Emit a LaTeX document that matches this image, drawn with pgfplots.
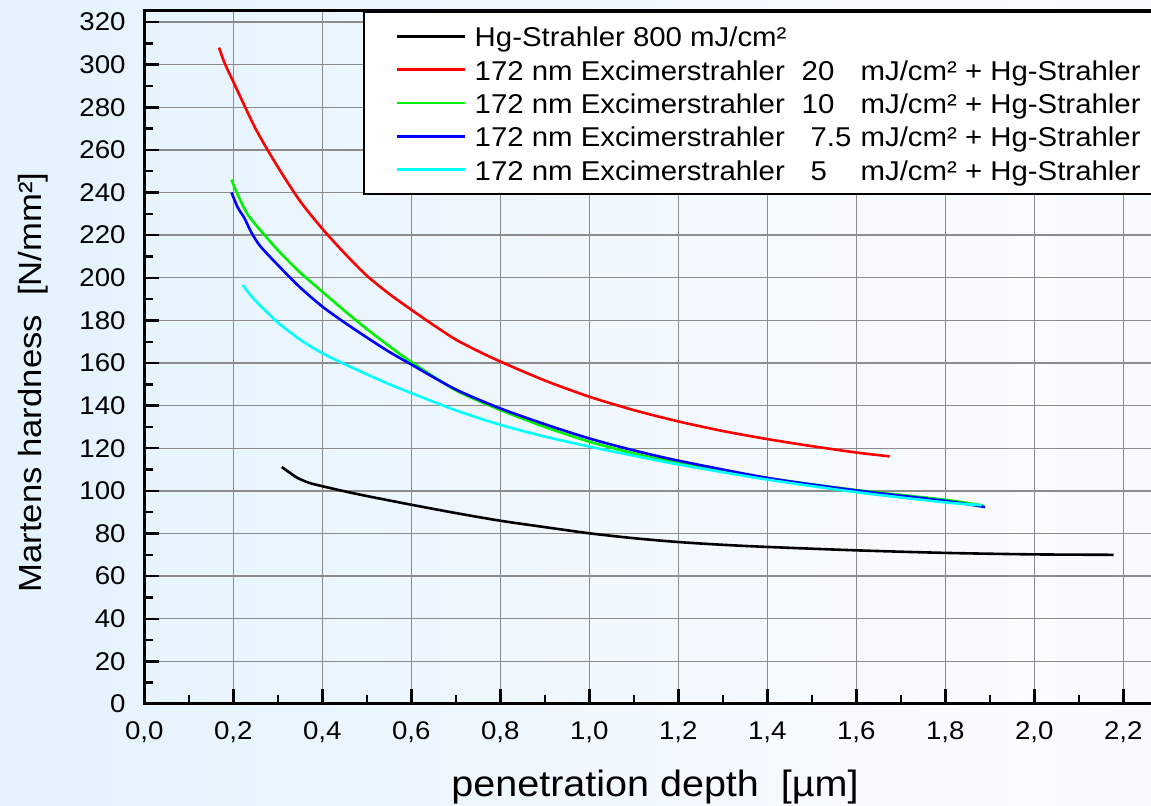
\documentclass[border=0pt]{standalone}
\usepackage{pgfplots}
\pgfplotsset{compat=1.18}
\usepackage{fontspec}
\setmainfont[FakeStretch=1.08]{Liberation Sans}
\definecolor{bgL}{RGB}{216,237,253}
\definecolor{bgW}{RGB}{250,252,255}
\definecolor{bgR}{RGB}{228,242,253}
\definecolor{gridc}{RGB}{140,140,140}
\definecolor{cgreen}{RGB}{0,240,0}
\definecolor{ccyan}{RGB}{0,255,255}
\definecolor{cblue}{RGB}{0,0,255}
\definecolor{cred}{RGB}{255,0,0}
\pgfdeclarehorizontalshading{bgshade}{100bp}{color(0bp)=(bgL); color(70bp)=(bgW); color(100bp)=(bgR)}
\newcommand\exc[3]{\rlap{172 nm Excimerstrahler}\hspace*{#2}\rlap{#1}\hspace*{#3}mJ/cm² + Hg-Strahler}
\newcommand\leg[1]{\hspace*{4.2pt}\makebox[340pt][l]{#1}}
\begin{document}
\begin{tikzpicture}
\shade[shading=bgshade] (0,0) rectangle (575.5pt,403pt);
\begin{axis}[
  at={(72.15pt,51pt)}, anchor=south west,
  scale only axis, width=503.96pt, height=346.5pt,
  xmin=0, xmax=2.265, ymin=0, ymax=325.2,
  xtick={0,0.2,0.4,0.6,0.8,1.0,1.2,1.4,1.6,1.8,2.0,2.2},
  ytick={0,20,40,60,80,100,120,140,160,180,200,220,240,260,280,300,320},
  minor x tick num=1, minor y tick num=1,
  xtick pos=bottom, ytick pos=left,
  tick align=inside,
  major tick length=7.5pt, minor tick length=4.5pt,
  every tick/.style={black, line width=1.2pt},
  axis line style={line width=1.5pt},
  grid=major,
  major grid style={gridc, line width=0.7pt},
  scaled ticks=false,
  /pgf/number format/assume math mode=true,
  x tick label style={font=\fontsize{12.8}{14}\selectfont, anchor=north, inner sep=0pt, yshift=-8.85pt,
    /pgf/number format/.cd, use comma, fixed, fixed zerofill, precision=1},
  y tick label style={font=\fontsize{12.8}{14}\selectfont, anchor=east, inner sep=0pt, xshift=-9.15pt,
    /pgf/number format/.cd, fixed, precision=0},
  xlabel={penetration depth\ \ [µm]},
  ylabel={Martens hardness\ \ [N/mm²]},
  x label style={font=\fontsize{18.3}{20}\selectfont, at={(axis description cs:0.5067,-0.1338)}, anchor=base},
  y label style={font=\fontsize{16.05}{18}\selectfont, at={(axis description cs:-0.1018,0.464)}, anchor=base},
  legend style={at={(axis description cs:0.217,1)}, anchor=north west, fill=white, draw=black, line width=1pt,
    inner xsep=15.65pt, inner ysep=3.8pt, row sep=0pt, column sep=0pt,
    font=\fontsize{13.6}{15}\selectfont,
    nodes={inner sep=0pt, text height=13.69pt, text depth=2.98pt}},
  legend cell align=left,
  legend image code/.code={\draw[line width=1.3pt] (0pt,0pt) -- (34.2pt,0pt);},
  every axis plot/.append style={line width=1.3pt, smooth, tension=0.45},
]
\addplot[black] coordinates {(0.309,111.2) (0.325,108.8) (0.345,106) (0.37,103.8) (0.4,102.2) (0.45,99.8) (0.5,97.6) (0.6,93.5) (0.7,89.6) (0.8,86.0) (0.9,83.0) (1.0,80.1) (1.1,77.8) (1.2,76.0) (1.3,74.7) (1.4,73.7) (1.6,72.1) (1.8,70.9) (2.0,70.2) (2.178,70.0)};
\addlegendentry{\leg{Hg-Strahler 800 mJ/cm²}}
\addplot[cred] coordinates {(0.168,308) (0.18,301) (0.2,292) (0.25,270) (0.3,252) (0.35,236) (0.4,223) (0.45,211.5) (0.5,201) (0.55,192.5) (0.6,185) (0.65,177.8) (0.7,171) (0.75,165.6) (0.8,160.7) (0.9,151.8) (1.0,144.2) (1.1,137.9) (1.2,132.6) (1.3,128.1) (1.4,124.3) (1.5,121) (1.6,118.0) (1.675,116.2)};
\addlegendentry{\leg{\exc{20}{163.5pt}{29.5pt}}}
\addplot[cgreen] coordinates {(0.196,246) (0.21,239) (0.23,230.5) (0.25,225) (0.3,213) (0.35,202.5) (0.4,193.5) (0.45,184.5) (0.5,176) (0.55,168) (0.6,160.5) (0.7,147.2) (0.8,138) (0.9,130) (1.0,123.1) (1.1,117.6) (1.2,113.2) (1.4,106) (1.6,100.4) (1.8,95.8) (1.885,93.1)};
\addlegendentry{\leg{\exc{10}{163.5pt}{29.5pt}}}
\addplot[cblue] coordinates {(0.196,240) (0.21,233) (0.225,228) (0.24,221.5) (0.26,215) (0.3,206) (0.35,195.5) (0.4,186.5) (0.45,179) (0.5,172) (0.55,165.3) (0.6,159.3) (0.7,147.6) (0.8,138.7) (0.9,131.3) (1.0,124.6) (1.1,119) (1.2,114.2) (1.4,106.1) (1.6,100.2) (1.8,95.3) (1.889,92.4)};
\addlegendentry{\leg{\exc{7.5}{168pt}{25pt}}}
\addplot[ccyan] coordinates {(0.221,196.6) (0.24,191.5) (0.26,187) (0.28,183) (0.3,179) (0.35,171) (0.4,164.6) (0.45,159.5) (0.5,154.7) (0.55,150.1) (0.6,145.9) (0.7,137.8) (0.8,131) (0.9,125.5) (1.0,120.8) (1.1,116.5) (1.2,112.4) (1.4,105.3) (1.6,99.4) (1.8,94.6) (1.882,93.3)};
\addlegendentry{\leg{\exc{5}{168pt}{25pt}}}
\end{axis}
\pgfresetboundingbox
\useasboundingbox (0,0) rectangle (575.5pt,403pt);
\end{tikzpicture}
\end{document}
